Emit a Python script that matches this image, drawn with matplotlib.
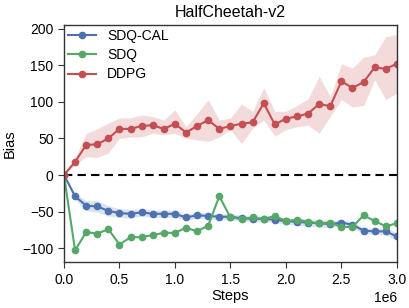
import numpy as np
import matplotlib.pyplot as plt

plt.rcParams['font.family'] = ['Liberation Sans', 'DejaVu Sans']

steps = np.arange(31) * 1e5

# DDPG bias (mean, band)
ddpg = [0, 18, 41, 42, 50, 63, 63, 67, 68, 63, 70, 58, 67, 75, 63, 67, 70, 72, 98, 69,
        77, 80, 84, 97, 94, 128, 119, 127, 147, 145, 152]
ddpg_hi = [0, 23, 57, 63, 71, 78, 78, 82, 80, 75, 89, 66, 84, 103, 75, 78, 97, 87, 119, 87,
           87, 95, 104, 135, 107, 152, 146, 161, 164, 189, 192]
ddpg_lo = [0, 14, 25, 24, 30, 50, 52, 52, 57, 55, 57, 50, 48, 46, 52, 62, 43, 64, 75, 53,
           62, 66, 68, 57, 80, 103, 93, 95, 130, 103, 112]

# SDQ-CAL bias (mean, band half-width)
sdqcal = [0, -29, -42, -43, -49, -52, -53, -51, -53, -53, -53, -58, -55, -56, -57, -57,
          -59, -60, -60, -61, -63, -64, -65, -66, -67, -65, -68, -76, -77, -77, -84]
sdqcal_w = [0, 4, 7, 8, 7, 6, 6, 5, 5, 5, 5, 4, 4, 4, 4, 4, 4, 4, 4, 4, 4, 5, 5, 5, 5, 4,
            4, 4, 4, 5, 5]

# SDQ bias
sdq = [0, -103, -78, -80, -74, -95, -85, -85, -82, -79, -79, -72, -77, -69, -29, -58,
       -60, -58, -60, -56, -63, -61, -64, -66, -65, -71, -71, -55, -63, -70, -66]

blue = '#4C72B0'
green = '#55A868'
red = '#C44E52'

fig = plt.figure(figsize=(4.1, 3.08), dpi=100)
ax = fig.add_axes([0.156, 0.149, 0.812, 0.770])

sdqcal = np.array(sdqcal)
sdqcal_w = np.array(sdqcal_w)
ax.fill_between(steps, sdqcal - sdqcal_w, sdqcal + sdqcal_w, color=blue, alpha=0.2, lw=0)
ax.fill_between(steps, ddpg_lo, ddpg_hi, color=red, alpha=0.2, lw=0)

ax.plot(steps, sdqcal, '-o', color=blue, ms=4.5, lw=1.5, label='SDQ-CAL')
ax.plot(steps, sdq, '-o', color=green, ms=4.5, lw=1.5, label='SDQ')
ax.plot(steps, ddpg, '-o', color=red, ms=4.5, lw=1.5, label='DDPG')
ax.axhline(0, color='black', ls='--', lw=1.5, dashes=(4, 2.5), zorder=1)

ax.set_xlim(0, 3e6)
ax.set_ylim(-119, 205)
ax.set_yticks([-100, -50, 0, 50, 100, 150, 200])
ax.set_title('HalfCheetah-v2', fontsize=11.5)
ax.set_xlabel('Steps', fontsize=10.5, labelpad=2)
ax.set_ylabel('Bias', fontsize=10.5)
ax.tick_params(labelsize=10, direction='out', length=4, color='#333333')
ax.xaxis.get_offset_text().set_fontsize(10)
for s in ax.spines.values():
    s.set_color('#333333')
    s.set_linewidth(1.0)

ax.legend(loc='upper left', frameon=False, fontsize=10, handlelength=2.0,
          handletextpad=0.8, borderpad=0.05, borderaxespad=0.25, labelspacing=0.37)

fig.savefig('out.png', dpi=100)
